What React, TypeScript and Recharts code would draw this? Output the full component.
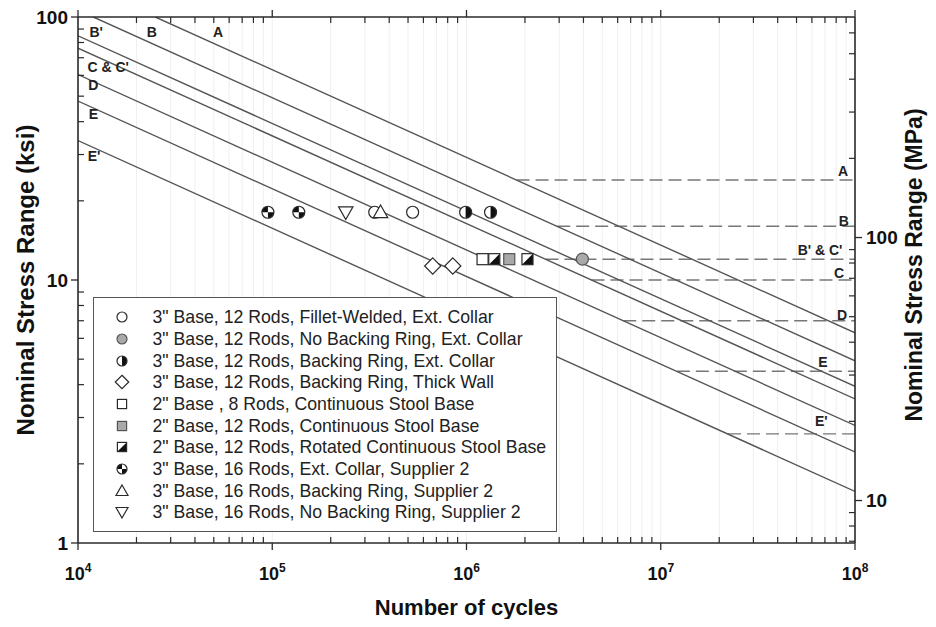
import React from 'react';
import { ComposedChart, Line, Scatter, XAxis, YAxis, ReferenceLine, ReferenceDot } from 'recharts';

// ---------- axis ticks ----------
const xMajorTicks = [1e4, 1e5, 1e6, 1e7, 1e8];
const xMinorTicks = [
  2e4, 3e4, 4e4, 5e4, 6e4, 7e4, 8e4, 9e4,
  2e5, 3e5, 4e5, 5e5, 6e5, 7e5, 8e5, 9e5,
  2e6, 3e6, 4e6, 5e6, 6e6, 7e6, 8e6, 9e6,
  2e7, 3e7, 4e7, 5e7, 6e7, 7e7, 8e7, 9e7,
];
const ksiMajorTicks = [1, 10, 100];
const ksiMinorTicks = [2, 3, 4, 5, 6, 7, 8, 9, 20, 30, 40, 50, 60, 70, 80, 90];
const mpaMajorTicks = [10, 100];
const mpaMinorTicks = [7, 8, 9, 20, 30, 40, 50, 60, 70, 80, 90, 200, 300, 400, 500, 600];

// ---------- S-N design curves (ksi) ----------
const curveA = [{ n: 2.5e4, s: 100 }, { n: 1e8, s: 6.3 }];
const curveB = [{ n: 1.2e4, s: 100 }, { n: 1e8, s: 4.93 }];
const curveBp = [{ n: 1e4, s: 84.8 }, { n: 1e8, s: 3.94 }];
const curveC = [{ n: 1e4, s: 76.1 }, { n: 1e8, s: 3.53 }];
const curveD = [{ n: 1e4, s: 60.4 }, { n: 1e8, s: 2.8 }];
const curveE = [{ n: 1e4, s: 47.9 }, { n: 1e8, s: 2.22 }];
const curveEp = [{ n: 1e4, s: 33.9 }, { n: 1e8, s: 1.57 }];

// ---------- constant amplitude fatigue thresholds (ksi) ----------
const thrA = [{ n: 1.81e6, s: 24 }, { n: 1e8, s: 24 }];
const thrB = [{ n: 2.93e6, s: 16 }, { n: 1e8, s: 16 }];
const thrBpCp = [{ n: 2.55e6, s: 12 }, { n: 1e8, s: 12 }];
const thrC = [{ n: 4.4e6, s: 10 }, { n: 1e8, s: 10 }];
const thrD = [{ n: 6.41e6, s: 7 }, { n: 1e8, s: 7 }];
const thrE = [{ n: 1.21e7, s: 4.5 }, { n: 1e8, s: 4.5 }];
const thrEp = [{ n: 2.22e7, s: 2.6 }, { n: 1e8, s: 2.6 }];

// ---------- curve labels ----------
const leftLabels = [
  { text: "B'", n: 1.24e4, s: 87.7 },
  { text: 'B', n: 2.4e4, s: 87.7 },
  { text: 'A', n: 5.26e4, s: 87.7 },
  { text: "C & C'", n: 1.43e4, s: 64.5 },
  { text: 'D', n: 1.2e4, s: 55.1 },
  { text: 'E', n: 1.2e4, s: 42.8 },
  { text: "E'", n: 1.21e4, s: 29.6 },
];
const rightLabels = [
  { text: 'A', n: 8.67e7, s: 26.0 },
  { text: 'B', n: 8.77e7, s: 16.8 },
  { text: "B' & C'", n: 6.61e7, s: 13.0 },
  { text: 'C', n: 8.28e7, s: 10.6 },
  { text: 'D', n: 8.57e7, s: 7.36 },
  { text: 'E', n: 6.84e7, s: 4.88 },
  { text: "E'", n: 6.7e7, s: 2.91 },
];

// ---------- test data (cycles, ksi) ----------
const filletWelded = [{ n: 3.37e5, s: 18.1 }, { n: 5.28e5, s: 18.1 }];
const noBackingRing = [{ n: 3.95e6, s: 12.0 }];
const backingRingExt = [{ n: 9.9e5, s: 18.1 }, { n: 1.33e6, s: 18.1 }];
const thickWall = [{ n: 6.7e5, s: 11.3 }, { n: 8.5e5, s: 11.3 }];
const base2in8Rods = [{ n: 1.21e6, s: 12.0 }];
const base2in12Rods = [{ n: 1.66e6, s: 12.0 }];
const rotatedStool = [{ n: 1.39e6, s: 12.0 }, { n: 2.06e6, s: 12.0 }];
const sup2ExtCollar = [{ n: 9.5e4, s: 18.1 }, { n: 1.37e5, s: 18.1 }];
const sup2Backing = [{ n: 3.61e5, s: 18.1 }];
const sup2NoBacking = [{ n: 2.39e5, s: 18.1 }];

const legendLabels = [
  '3" Base, 12 Rods, Fillet-Welded, Ext. Collar',
  '3" Base, 12 Rods, No Backing Ring, Ext. Collar',
  '3" Base, 12 Rods, Backing Ring, Ext. Collar',
  '3" Base, 12 Rods, Backing Ring, Thick Wall',
  '2" Base , 8 Rods, Continuous Stool Base',
  '2" Base, 12 Rods, Continuous Stool Base',
  '2" Base, 12 Rods, Rotated Continuous Stool Base',
  '3" Base, 16 Rods, Ext. Collar, Supplier 2',
  '3" Base, 16 Rods, Backing Ring, Supplier 2',
  '3" Base, 16 Rods, No Backing Ring, Supplier 2',
];
const legendKinds = [
  'circleOpen', 'circleGray', 'circleHalf', 'diamond', 'squareOpen',
  'squareGray', 'squareHalf', 'circleQuarter', 'triUp', 'triDown',
];

const FONT = "'Liberation Sans', Arial, Helvetica, sans-serif";
const AX = '#2a2a2a';

function Marker({ kind, cx, cy, r }: { kind: string; cx: number; cy: number; r: number }) {
  const st = '#2a2a2a';
  const sw = 1.2;
  const dark = '#111';
  const gray = '#a9a9a9';
  switch (kind) {
    case 'circleOpen':
      return <circle cx={cx} cy={cy} r={r} fill="#fff" stroke={st} strokeWidth={sw} />;
    case 'circleGray':
      return <circle cx={cx} cy={cy} r={r} fill={gray} stroke="#555" strokeWidth={sw} />;
    case 'circleHalf':
      return (
        <g>
          <circle cx={cx} cy={cy} r={r} fill="#fff" />
          <path d={`M${cx},${cy - r} A${r},${r} 0 0 1 ${cx},${cy + r} Z`} fill={dark} />
          <circle cx={cx} cy={cy} r={r} fill="none" stroke={st} strokeWidth={sw} />
        </g>
      );
    case 'circleQuarter':
      return (
        <g>
          <circle cx={cx} cy={cy} r={r} fill="#fff" />
          <path d={`M${cx},${cy} L${cx - r},${cy} A${r},${r} 0 0 1 ${cx},${cy - r} Z`} fill={dark} />
          <path d={`M${cx},${cy} L${cx + r},${cy} A${r},${r} 0 0 1 ${cx},${cy + r} Z`} fill={dark} />
          <circle cx={cx} cy={cy} r={r} fill="none" stroke={st} strokeWidth={sw} />
        </g>
      );
    case 'diamond': {
      const d = r * 1.35;
      return (
        <polygon
          points={`${cx},${cy - d} ${cx + d},${cy} ${cx},${cy + d} ${cx - d},${cy}`}
          fill="#fff"
          stroke={st}
          strokeWidth={sw}
        />
      );
    }
    case 'squareOpen':
    case 'squareGray': {
      const h = r * 0.92;
      return (
        <rect
          x={cx - h}
          y={cy - h}
          width={2 * h}
          height={2 * h}
          fill={kind === 'squareGray' ? gray : '#fff'}
          stroke={kind === 'squareGray' ? '#555' : st}
          strokeWidth={sw}
        />
      );
    }
    case 'squareHalf': {
      const h = r * 0.92;
      return (
        <g>
          <rect x={cx - h} y={cy - h} width={2 * h} height={2 * h} fill="#fff" />
          <polygon points={`${cx + h},${cy - h} ${cx + h},${cy + h} ${cx - h},${cy + h}`} fill={dark} />
          <rect x={cx - h} y={cy - h} width={2 * h} height={2 * h} fill="none" stroke={st} strokeWidth={sw} />
        </g>
      );
    }
    case 'triUp': {
      const t = r * 1.2;
      return (
        <polygon
          points={`${cx},${cy - t} ${cx + t},${cy + t * 0.75} ${cx - t},${cy + t * 0.75}`}
          fill="#fff"
          stroke={st}
          strokeWidth={sw}
        />
      );
    }
    case 'triDown': {
      const t = r * 1.2;
      return (
        <polygon
          points={`${cx},${cy + t} ${cx + t},${cy - t * 0.75} ${cx - t},${cy - t * 0.75}`}
          fill="#fff"
          stroke={st}
          strokeWidth={sw}
        />
      );
    }
    default:
      return null;
  }
}

const shapeOf = (kind: string) => (p: any) => <Marker kind={kind} cx={p.cx} cy={p.cy} r={6} />;

const isMajor = (v: number, majors: number[]) => majors.some((m) => Math.abs(m - v) / m < 1e-6);

const MAJ = 7;
const MIN = 6;

function LeftTick(props: any) {
  const { x, y, payload } = props;
  const v = payload.value;
  if (isMajor(v, ksiMajorTicks)) {
    return (
      <g>
        <line x1={x} x2={x - MAJ} y1={y} y2={y} stroke={AX} strokeWidth={1.3} />
        <text x={x - 10} y={y} dy="0.35em" textAnchor="end" fontFamily={FONT} fontWeight="bold" fontSize={19} fill="#111">
          {v}
        </text>
      </g>
    );
  }
  return <line x1={x} x2={x + MIN} y1={y} y2={y} stroke={AX} strokeWidth={1.2} />;
}

function RightTick(props: any) {
  const { x, y, payload } = props;
  const v = payload.value;
  if (isMajor(v, mpaMajorTicks)) {
    return (
      <g>
        <line x1={x} x2={x + MAJ} y1={y} y2={y} stroke={AX} strokeWidth={1.3} />
        <text x={x + 11} y={y} dy="0.35em" textAnchor="start" fontFamily={FONT} fontWeight="bold" fontSize={19} fill="#111">
          {v}
        </text>
      </g>
    );
  }
  return <line x1={x} x2={x - MIN} y1={y} y2={y} stroke={AX} strokeWidth={1.2} />;
}

function BottomTick(props: any) {
  const { x, y, payload } = props;
  const v = payload.value;
  if (isMajor(v, xMajorTicks)) {
    const e = Math.round(Math.log10(v));
    return (
      <g>
        <line x1={x} x2={x} y1={y} y2={y + MAJ} stroke={AX} strokeWidth={1.3} />
        <text x={x} y={y + 37} textAnchor="middle" fontFamily={FONT} fontWeight="bold" fontSize={18} fill="#111">
          10
          <tspan dy={-8} fontSize={12}>
            {e}
          </tspan>
        </text>
      </g>
    );
  }
  return <line x1={x} x2={x} y1={y} y2={y - MIN} stroke={AX} strokeWidth={1.2} />;
}

function TopTick(props: any) {
  const { x, y, payload } = props;
  const v = payload.value;
  if (isMajor(v, xMajorTicks)) {
    return <line x1={x} x2={x} y1={y} y2={y - MAJ} stroke={AX} strokeWidth={1.3} />;
  }
  return <line x1={x} x2={x} y1={y} y2={y + MIN} stroke={AX} strokeWidth={1.2} />;
}

const titleStyle = { fontFamily: FONT, fontWeight: 'bold' as const, fill: '#111' };

const curveList = [curveA, curveB, curveBp, curveC, curveD, curveE, curveEp];
const thrList = [thrA, thrB, thrBpCp, thrC, thrD, thrE, thrEp];

const seriesList: { data: { n: number; s: number }[]; kind: string }[] = [
  { data: filletWelded, kind: 'circleOpen' },
  { data: noBackingRing, kind: 'circleGray' },
  { data: backingRingExt, kind: 'circleHalf' },
  { data: thickWall, kind: 'diamond' },
  { data: base2in8Rods, kind: 'squareOpen' },
  { data: base2in12Rods, kind: 'squareGray' },
  { data: rotatedStool, kind: 'squareHalf' },
  { data: sup2ExtCollar, kind: 'circleQuarter' },
  { data: sup2Backing, kind: 'triUp' },
  { data: sup2NoBacking, kind: 'triDown' },
];

const axisHelper = [{ n: 1e4, mpa: 10 }, { n: 1e8, mpa: 100 }];

const labelRender = (p: any, text: string) => {
  const vb = p.viewBox || {};
  const cx = (vb.x || 0) + (vb.width || 0) / 2;
  const cy = (vb.y || 0) + (vb.height || 0) / 2;
  return (
    <text x={cx} y={cy} dy="0.36em" textAnchor="middle" fontFamily={FONT} fontWeight="bold" fontSize={14} fill="#222">
      {text}
    </text>
  );
};

export default function App() {
  const allX = [...xMajorTicks, ...xMinorTicks].sort((a, b) => a - b);
  const allKsi = [...ksiMajorTicks, ...ksiMinorTicks].sort((a, b) => a - b);
  const allMpa = [...mpaMajorTicks, ...mpaMinorTicks].sort((a, b) => a - b);
  return (
    <div style={{ position: 'relative', width: 920, height: 611, background: '#fff' }}>
      <ComposedChart width={920} height={611} margin={{ top: 0, right: 0, bottom: 0, left: 0 }}>
        <XAxis
          xAxisId="main"
          dataKey="n"
          type="number"
          scale="log"
          domain={[1e4, 1e8]}
          allowDataOverflow
          ticks={allX}
          interval={0}
          tickSize={0}
          tickMargin={0}
          tickLine={false}
          tick={<BottomTick />}
          height={76}
          axisLine={{ stroke: AX, strokeWidth: 1.6 }}
          label={(p: any) => {
            const vb = p.viewBox || {};
            return (
              <text x={vb.x + vb.width / 2} y={vb.y + 72} textAnchor="middle" fontSize={22} {...titleStyle}>
                Number of cycles
              </text>
            );
          }}
        />
        <XAxis
          xAxisId="top"
          dataKey="n"
          orientation="top"
          type="number"
          scale="log"
          domain={[1e4, 1e8]}
          allowDataOverflow
          ticks={allX}
          interval={0}
          tickSize={0}
          tickMargin={0}
          tickLine={false}
          tick={<TopTick />}
          height={9}
          axisLine={{ stroke: AX, strokeWidth: 1.6 }}
        />
        <YAxis
          yAxisId="ksi"
          dataKey="s"
          type="number"
          scale="log"
          domain={[1, 100]}
          allowDataOverflow
          ticks={allKsi}
          interval={0}
          tickSize={0}
          tickMargin={0}
          tickLine={false}
          tick={<LeftTick />}
          width={70}
          axisLine={{ stroke: AX, strokeWidth: 1.6 }}
          label={(p: any) => {
            const vb = p.viewBox || {};
            const cx = 17;
            const cy = vb.y + vb.height / 2;
            return (
              <text x={cx} y={cy} dy="0.36em" textAnchor="middle" fontSize={24} transform={`rotate(-90 ${cx} ${cy})`} {...titleStyle}>
                Nominal Stress Range (ksi)
              </text>
            );
          }}
        />
        <YAxis
          yAxisId="mpa"
          dataKey="mpa"
          orientation="right"
          type="number"
          scale="log"
          domain={[6.895, 689.5]}
          allowDataOverflow
          ticks={allMpa}
          interval={0}
          tickSize={0}
          tickMargin={0}
          tickLine={false}
          tick={<RightTick />}
          width={73}
          axisLine={{ stroke: AX, strokeWidth: 1.6 }}
          label={(p: any) => {
            const vb = p.viewBox || {};
            const cx = vb.x + 59;
            const cy = 257;
            return (
              <text x={cx} y={cy} dy="0.36em" textAnchor="middle" fontSize={23} transform={`rotate(-90 ${cx} ${cy})`} {...titleStyle}>
                Nominal Stress Range (MPa)
              </text>
            );
          }}
        />

        {allX.map((v) => (
          <ReferenceLine key={`g${v}`} xAxisId="main" yAxisId="ksi" x={v} stroke="#efefef" strokeWidth={1} />
        ))}

        <Line
          xAxisId="top"
          yAxisId="mpa"
          data={axisHelper}
          dataKey="mpa"
          stroke="none"
          dot={false}
          isAnimationActive={false}
          legendType="none"
        />

        {thrList.map((d, i) => (
          <Line
            key={`t${i}`}
            xAxisId="main"
            yAxisId="ksi"
            data={d}
            dataKey="s"
            stroke="#777"
            strokeWidth={1.4}
            strokeDasharray="13 6"
            dot={false}
            isAnimationActive={false}
          />
        ))}

        {curveList.map((d, i) => (
          <Line
            key={`c${i}`}
            xAxisId="main"
            yAxisId="ksi"
            data={d}
            dataKey="s"
            stroke="#555"
            strokeWidth={1.4}
            dot={false}
            isAnimationActive={false}
          />
        ))}

        {seriesList.map((sr, i) => (
          <Scatter
            key={`s${i}`}
            xAxisId="main"
            yAxisId="ksi"
            data={sr.data}
            shape={shapeOf(sr.kind)}
            isAnimationActive={false}
          />
        ))}

        {[...leftLabels, ...rightLabels].map((l, i) => (
          <ReferenceDot
            key={`l${i}`}
            xAxisId="main"
            yAxisId="ksi"
            x={l.n}
            y={l.s}
            r={0}
            fill="none"
            stroke="none"
            label={(p: any) => labelRender(p, l.text)}
          />
        ))}
      </ComposedChart>

      <div
        style={{
          position: 'absolute',
          left: 85,
          top: 289,
          width: 464,
          height: 235,
          boxSizing: 'border-box',
          border: '1.6px solid #555',
          background: '#fff',
          fontFamily: FONT,
          fontSize: 17.7,
          color: '#222',
        }}
      >
        {legendLabels.map((txt, i) => (
          <div
            key={txt}
            style={{
              position: 'absolute',
              left: 0,
              top: 19.4 + i * 21.67 - 11,
              height: 22,
              lineHeight: '22px',
              whiteSpace: 'nowrap',
            }}
          >
            <svg width={16} height={16} style={{ position: 'absolute', left: 20, top: 3 }}>
              <Marker kind={legendKinds[i]} cx={8} cy={8} r={5} />
            </svg>
            <span style={{ position: 'absolute', left: 58.5, top: 0 }}>{txt}</span>
          </div>
        ))}
      </div>
    </div>
  );
}
